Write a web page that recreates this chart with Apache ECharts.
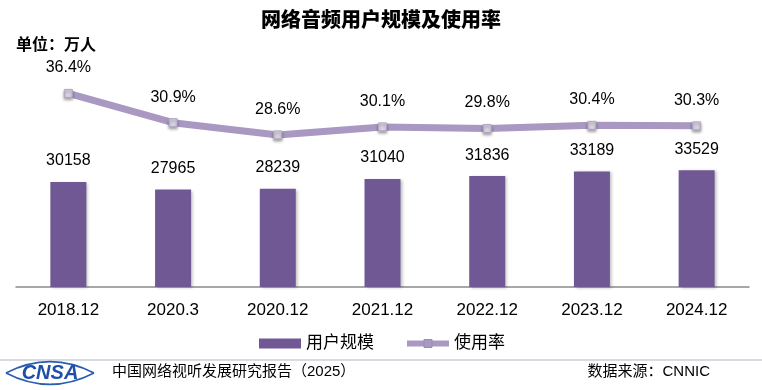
<!DOCTYPE html>
<html>
<head>
<meta charset="utf-8">
<script src="https://cdn.jsdelivr.net/npm/echarts@6/dist/echarts.min.js"></script>
<style>html,body{margin:0;padding:0;background:#fff}#c{width:762px;height:390px}</style>
</head>
<body>
<div id="c"></div>
<script>
const categories = ['2018.12','2020.3','2020.12','2021.12','2022.12','2023.12','2024.12'];
const users = [30158, 27965, 28239, 31040, 31836, 33189, 33529];
const rate = [36.4, 30.9, 28.6, 30.1, 29.8, 30.4, 30.3];

const FONT = '"Liberation Sans", "Noto Sans CJK SC", Arial, sans-serif';
const chart = echarts.init(document.getElementById('c'));
chart.setOption({
  backgroundColor: '#fff',
  animation: false,
  textStyle: { fontFamily: FONT },
  title: {
    text: '网络音频用户规模及使用率',
    left: 'center', top: 6,
    textStyle: { fontSize: 20, fontWeight: 900, color: '#000', fontFamily: FONT }
  },
  legend: {
    left: 254, top: 330,
    itemGap: 30,
    itemWidth: 42, itemHeight: 10,
    textStyle: { fontSize: 17, color: '#000', fontFamily: FONT },
    data: [
      { name: '用户规模', icon: 'rect' },
      { name: '使用率', lineStyle: { width: 6, color: '#a898c2' }, itemStyle: { color: '#a898c2', borderColor: '#9a8ab6', borderWidth: 1, shadowBlur: 0 } }
    ]
  },
  grid: { left: 16, right: 13, top: 78, bottom: 103 },
  xAxis: {
    type: 'category',
    data: categories,
    axisLine: { lineStyle: { color: '#8a8a8a', width: 1.5 } },
    axisTick: { inside: true, length: 6, lineStyle: { color: '#8a8a8a', width: 1.5 } },
    axisLabel: { fontSize: 17, color: '#000', margin: 15, fontFamily: FONT }
  },
  yAxis: [
    { type: 'value', min: 0, max: 60000, show: false, splitLine: { show: false } },
    { type: 'value', min: 0, max: 39.3, show: false, splitLine: { show: false } }
  ],
  graphic: [
    { type: 'text', left: 16, top: 38, style: { text: '单位：万人', fill: '#000', font: 'bold 16px ' + FONT } },
    { type: 'line', shape: { x1: 0, y1: 360, x2: 762, y2: 360 }, style: { stroke: '#b5b5c8', lineWidth: 1 } },
    { type: 'bezierCurve', shape: { x1: 6, y1: 373, x2: 94, y2: 373, cpx1: 35, cpy1: 358, cpx2: 65, cpy2: 358 }, style: { stroke: '#2a5db0', lineWidth: 1.5, fill: null } },
    { type: 'bezierCurve', shape: { x1: 6, y1: 373, x2: 94, y2: 373, cpx1: 35, cpy1: 388, cpx2: 65, cpy2: 388 }, style: { stroke: '#2a5db0', lineWidth: 1.5, fill: null } },
    { type: 'text', x: 50, y: 373, style: { text: 'CNSA', fill: '#1f4fa8', font: 'italic bold 20px "Liberation Sans", Arial, sans-serif', textAlign: 'center', textVerticalAlign: 'middle' } },
    { type: 'text', x: 112, y: 372, style: { text: '中国网络视听发展研究报告（2025）', fill: '#000', font: '15px ' + FONT, textVerticalAlign: 'middle' } },
    { type: 'text', x: 710, y: 372, style: { text: '数据来源：CNNIC', fill: '#000', font: '15px ' + FONT, textAlign: 'right', textVerticalAlign: 'middle' } }
  ],
  series: [
    {
      name: '用户规模',
      type: 'bar',
      data: users,
      barWidth: 36,
      itemStyle: { color: '#6f5893', shadowBlur: 3, shadowColor: 'rgba(0,0,0,0.25)', shadowOffsetX: 2, shadowOffsetY: 1 },
      label: { show: true, position: 'top', distance: 13, fontSize: 16, color: '#000', fontFamily: FONT }
    },
    {
      name: '使用率',
      type: 'line',
      yAxisIndex: 1,
      data: rate,
      symbol: 'rect',
      symbolSize: 8,
      lineStyle: { color: '#a898c2', width: 7 },
      itemStyle: { color: '#d8d4e0', borderColor: '#b0a6c6', borderWidth: 1, shadowBlur: 3, shadowColor: 'rgba(0,0,0,0.35)', shadowOffsetY: 2 },
      label: { show: true, position: 'top', distance: 13, fontSize: 16, color: '#000', fontFamily: FONT, formatter: p => p.value.toFixed(1) + '%' },
      z: 3
    }
  ]
});
</script>
</body>
</html>
